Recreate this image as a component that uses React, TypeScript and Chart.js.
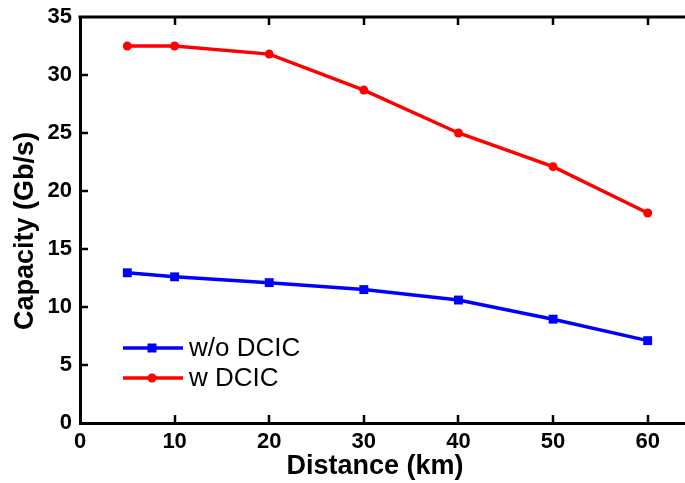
import React, { useEffect, useRef } from "react";
import { Chart, registerables } from "chart.js";

Chart.register(...registerables);

const distances = [5, 10, 20, 30, 40, 50, 60];
const withoutDcic = [12.95, 12.6, 12.1, 11.5, 10.6, 8.95, 7.1];
const withDcic = [32.5, 32.5, 31.8, 28.7, 25.0, 22.1, 18.1];
const seriesLabels = ["w/o DCIC", "w DCIC"];
const xTitle = "Distance (km)";
const yTitle = "Capacity (Gb/s)";

const FONT = "Arial, 'Liberation Sans', sans-serif";

const decorPlugin = {
  id: "decor",
  afterDraw(chart: any) {
    const ctx = chart.ctx;
    const { left, right, top, bottom } = chart.chartArea;
    const xs = chart.scales.x;
    const ys = chart.scales.y;
    ctx.save();
    ctx.strokeStyle = "#000";
    // top border
    ctx.lineWidth = 3;
    ctx.beginPath();
    ctx.moveTo(left - 1.5, top);
    ctx.lineTo(right, top);
    ctx.stroke();
    // inward ticks
    ctx.lineWidth = 2.5;
    const tl = 8;
    xs.ticks.forEach((t: any) => {
      if (t.value <= xs.min || t.value >= xs.max) return;
      const px = Math.round(xs.getPixelForValue(t.value));
      ctx.beginPath();
      ctx.moveTo(px, bottom);
      ctx.lineTo(px, bottom - tl);
      ctx.moveTo(px, top);
      ctx.lineTo(px, top + tl);
      ctx.stroke();
    });
    ys.ticks.forEach((t: any) => {
      if (t.value <= ys.min || t.value >= ys.max) return;
      const py = Math.round(ys.getPixelForValue(t.value));
      ctx.beginPath();
      ctx.moveTo(left, py);
      ctx.lineTo(left + tl, py);
      ctx.stroke();
    });
    // axis titles
    ctx.fillStyle = "#000";
    ctx.font = `bold 27px ${FONT}`;
    ctx.textAlign = "center";
    ctx.textBaseline = "middle";
    ctx.fillText(xTitle, 375, 467);
    ctx.save();
    ctx.translate(26, 231);
    ctx.rotate(-Math.PI / 2);
    ctx.fillText(yTitle, 0, 0);
    ctx.restore();
    // legend
    const rows = [348, 378];
    chart.data.datasets.forEach((ds: any, i: number) => {
      const y = rows[i];
      ctx.strokeStyle = ds.borderColor;
      ctx.lineWidth = 3.5;
      ctx.beginPath();
      ctx.moveTo(123, y);
      ctx.lineTo(183, y);
      ctx.stroke();
      ctx.fillStyle = ds.borderColor;
      if (ds.pointStyle === "rect") {
        ctx.fillRect(152 - 4.5, y - 4.5, 9, 9);
      } else {
        ctx.beginPath();
        ctx.arc(152, y, 4.5, 0, Math.PI * 2);
        ctx.fill();
      }
      ctx.fillStyle = "#000";
      ctx.font = `26px ${FONT}`;
      ctx.textAlign = "left";
      ctx.fillText(ds.label, 189, y + 1);
    });
    ctx.restore();
  },
};

export default function App() {
  const ref = useRef<HTMLCanvasElement>(null);
  useEffect(() => {
    if (!ref.current) return;
    const chart = new Chart(ref.current, {
      type: "line",
      data: {
        datasets: [
          {
            label: seriesLabels[0],
            data: distances.map((d, i) => ({ x: d, y: withoutDcic[i] })),
            borderColor: "#0000ff",
            backgroundColor: "#0000ff",
            borderWidth: 3.5,
            pointStyle: "rect",
            pointRadius: 6.3,
            pointBorderWidth: 0,
            tension: 0,
          },
          {
            label: seriesLabels[1],
            data: distances.map((d, i) => ({ x: d, y: withDcic[i] })),
            borderColor: "#ff0000",
            backgroundColor: "#ff0000",
            borderWidth: 3.5,
            pointStyle: "circle",
            pointRadius: 4.5,
            pointBorderWidth: 0,
            tension: 0,
          },
        ],
      },
      options: {
        animation: false,
        responsive: false,
        maintainAspectRatio: false,
        layout: { padding: { top: 17, right: 25, left: 0, bottom: 0 } },
        plugins: { legend: { display: false }, tooltip: { enabled: false } },
        scales: {
          x: {
            type: "linear",
            min: 0,
            max: 65,
            afterFit: (s: any) => {
              s.height = 60;
              s.paddingLeft = 0;
              s.paddingRight = 0;
            },
            ticks: {
              stepSize: 10,
              includeBounds: false,
              color: "#000",
              padding: 6,
              maxRotation: 0,
              font: { family: FONT, size: 22, weight: "bold" },
            },
            grid: { display: false, drawTicks: false },
            border: { display: true, color: "#000", width: 3 },
          },
          y: {
            min: 0,
            max: 35,
            afterFit: (s: any) => {
              s.width = 80;
              s.paddingTop = 0;
              s.paddingBottom = 0;
            },
            ticks: {
              stepSize: 5,
              color: "#000",
              padding: 8,
              font: { family: FONT, size: 22, weight: "bold" },
            },
            grid: { display: false, drawTicks: false },
            border: { display: true, color: "#000", width: 3 },
          },
        },
      },
      plugins: [decorPlugin],
    });
    return () => chart.destroy();
  }, []);
  return (
    <div
      style={{
        position: "fixed",
        left: 0,
        top: 0,
        width: 685,
        height: 483,
        overflow: "hidden",
        background: "#fff",
      }}
    >
      <canvas ref={ref} width={720} height={483} style={{ width: 720, height: 483, display: "block" }} />
    </div>
  );
}
